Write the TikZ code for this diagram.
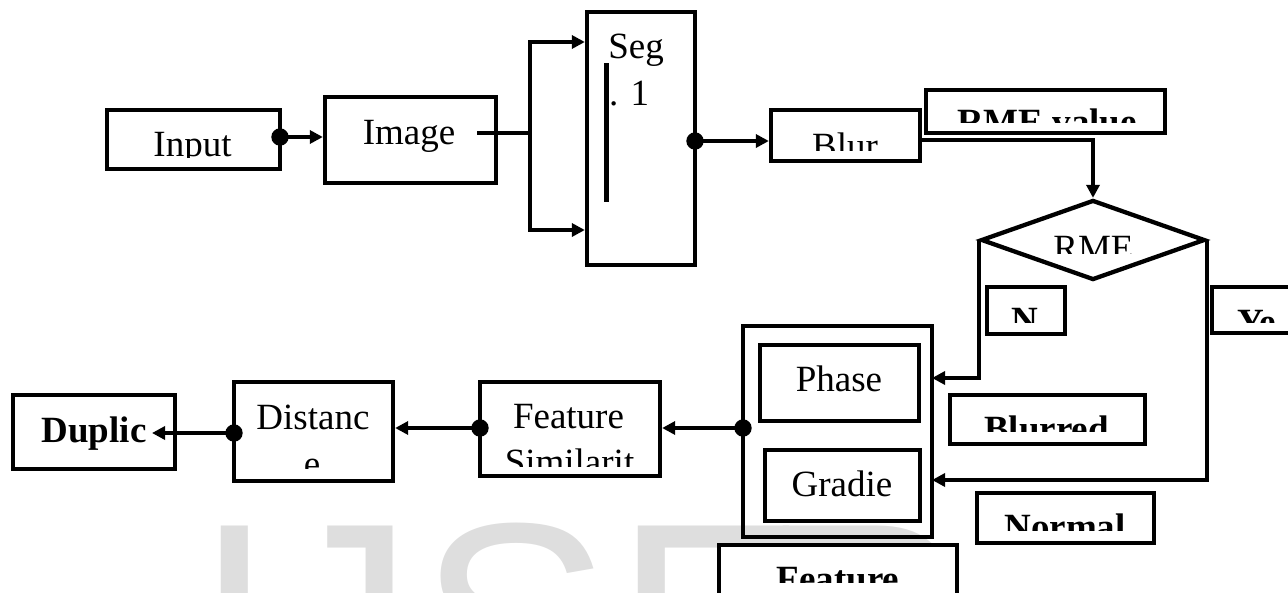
\documentclass[tikz,border=0pt]{standalone}
\usepackage{fontspec}
\setmainfont{Liberation Serif}
\newfontfamily\markfont{Liberation Sans}
\usetikzlibrary{arrows.meta, shapes.geometric, positioning}
\newcommand{\CutLabel}[5][]{
  \begin{scope}
    \clip (0,0) rectangle (1288,#3);
    \node[lbl,#1] (#2) at (#4) {#5};
  \end{scope}
}

\begin{document}
\begin{tikzpicture}[x=1pt, y=-1pt, line width=4.3pt,
    blockbox/.style={draw, fill=white, inner sep=0pt},
    lbl/.style={anchor=base, inner sep=0pt, font=\fontsize{37}{44}\selectfont},
    lblbf/.style={font=\fontsize{37}{44}\selectfont\bfseries},
    wm/.style={anchor=base west, inner sep=0pt, text=black!13,
      font=\markfont\fontsize{290}{300}\selectfont},
    conn/.style={-{Triangle[length=13pt,width=13pt]}}]
            \useasboundingbox (0,0) rectangle (1288,592);

            % watermark
            \node[wm] (wmI) at (192,725) {I};
            \node[wm] (wmJ) at (267,725) {J};
            \node[wm] (wmS) at (416,725) {S};
            \node[wm] (wmE) at (612,725) {E};
            \node[wm] (wmR) at (757,725) {R};

            % boxes
            \node[blockbox, minimum width=173pt, minimum height=59pt] (input) at (193.5,139.5) {};
            \node[blockbox, minimum width=171pt, minimum height=86pt] (image) at (410.5,140) {};
            \node[blockbox, minimum width=108pt, minimum height=253pt] (seg) at (641,138.5) {};
            \node[blockbox, minimum width=149pt, minimum height=51pt] (blur) at (845.5,135.5) {};
            \node[blockbox, minimum width=239pt, minimum height=43pt] (rmeval) at (1045.5,111.5) {};
            \node[blockbox, diamond, minimum width=224pt, minimum height=80pt] (rme) at (1093,240) {};
            \node[blockbox, minimum width=78pt, minimum height=47pt] (nobox) at (1026,310.5) {};
            \node[blockbox, minimum width=96pt, minimum height=46pt] (yesbox) at (1260,310) {};
            \node[blockbox, minimum width=195pt, minimum height=49pt] (blurred) at (1047.5,419.5) {};
            \node[blockbox, minimum width=177pt, minimum height=50pt] (normal) at (1065.5,518) {};
            \node[draw, inner sep=0pt, minimum width=189pt, minimum height=211pt] (featbox) at (837.5,431.5) {};
            \node[blockbox, minimum width=159pt, minimum height=76pt] (phase) at (839.5,383) {};
            \node[blockbox, minimum width=155pt, minimum height=71pt] (gradie) at (842.5,485.5) {};
            \node[blockbox, minimum width=238pt, minimum height=63pt] (featlabel) at (838,576.5) {};
            \node[blockbox, minimum width=180pt, minimum height=94pt] (simil) at (570,429) {};
            \node[blockbox, minimum width=159pt, minimum height=99pt] (dist) at (313.5,431.5) {};
            \node[blockbox, minimum width=162pt, minimum height=74pt] (duplic) at (94,432) {};

            % texts
            \CutLabel{inputtxt}{157}{192.5,156.5}{Input}
            \node[lbl] (imagetxt) at (409,144) {Image};
            \node[lbl] (segtxt) at (636,58) {Seg};
            \node[lbl, anchor=base west] (segnum) at (607,105) {. 1};
            \draw[line width=5pt] (606,63) -- (606,202);
            \CutLabel{blurtxt}{150}{845,158}{Blur}
            \CutLabel[lblbf]{rmevaltxt}{122}{1047,134.5}{RME value}
            \CutLabel{rmetxt}{253}{1093.5,260.5}{RME}
            \CutLabel[lblbf]{notxt}{322}{1025,332.5}{N}
            \CutLabel[lblbf, anchor=base west]{yestxt}{322}{1235,334.5}{Ye}
            \CutLabel[lblbf]{blurredtxt}{431}{1046.5,441.5}{Blurred}
            \CutLabel[lblbf]{normaltxt}{530}{1065,539.5}{Normal}
            \node[lbl] (phasetxt) at (839,391) {Phase};
            \node[lbl] (gradietxt) at (842,496) {Gradie};
            \node[lbl] (simtxt) at (568.5,428) {Feature};
            \CutLabel{simtxt2}{466}{569.5,474.5}{Similarit}
            \node[lbl] (disttxt) at (313,429) {Distanc};
            \CutLabel{disttxt2}{468}{312,476.5}{e}
            \node[lbl, lblbf] (duplictxt) at (94,442) {Duplic};
            \CutLabel[lblbf]{feattxt}{582}{838,591.5}{Feature}

            % connectors
            \coordinate (d1) at (280,137);
            \coordinate (imgout) at (477,133);
            \coordinate (split) at (530,133);
            \coordinate (segtop) at (530,42);
            \coordinate (segbot) at (530,230);
            \coordinate (d2) at (695,141);
            \coordinate (b1) at (922,140);
            \coordinate (phasein) at (932,378);
            \coordinate (gradin) at (932,480);
            \coordinate (d3) at (743,428);
            \coordinate (d4) at (480,428);
            \coordinate (d5) at (234,433);
            \coordinate (dupin) at (152,433);

            \draw[conn] (d1) -- (d1 -| image.west);
            \draw (imgout) -- (split);
            \draw[conn] (split) |- (segtop -| seg.west);
            \draw[conn] (split) |- (segbot -| seg.west);
            \draw[conn] (d2) -- (d2 -| blur.west);
            \draw[conn] (b1) -| (rme.north);
            \draw[conn] (rme.west) |- (phasein);
            \draw[conn] (rme.east) |- (gradin);
            \draw[conn] (d3) -- (d3 -| simil.east);
            \draw[conn] (d4) -- (d4 -| dist.east);
            \draw[conn] (d5) -- (dupin);
            \filldraw (d1) circle (6.5pt);
            \filldraw (d2) circle (6.5pt);
            \filldraw (d3) circle (6.5pt);
            \filldraw (d4) circle (6.5pt);
            \filldraw (d5) circle (6.5pt);
        \end{tikzpicture}
\end{document}
